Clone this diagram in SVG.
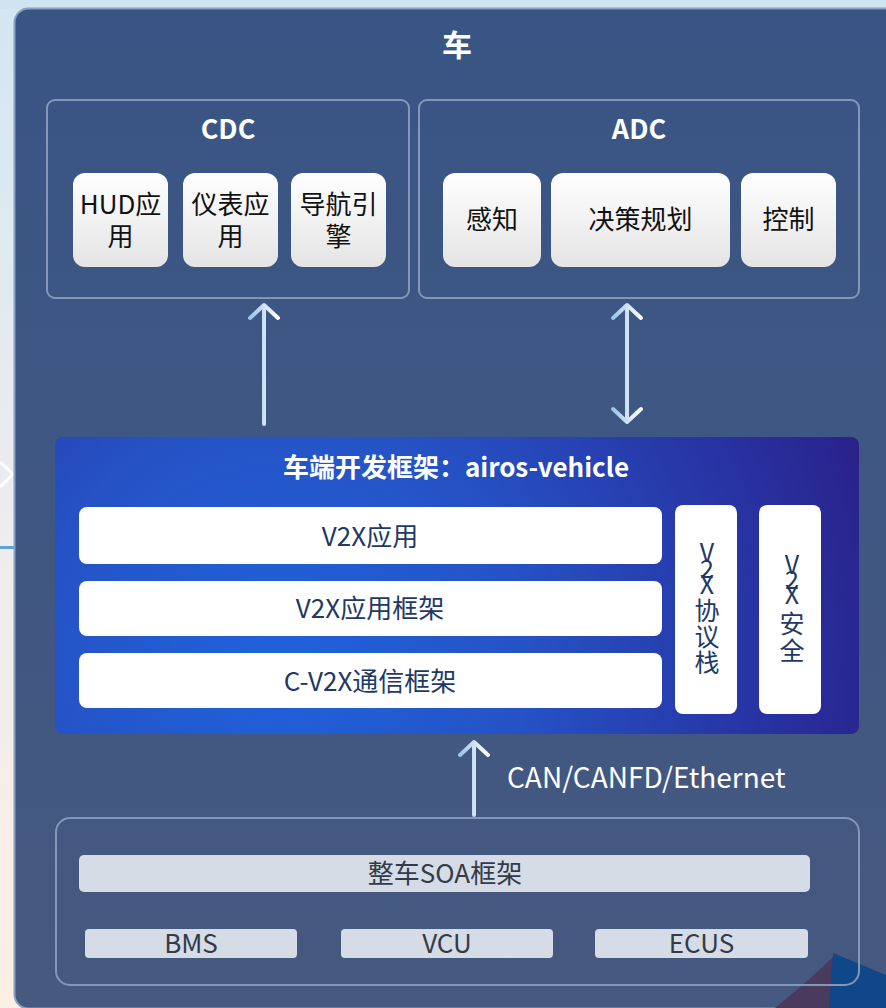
<svg xmlns="http://www.w3.org/2000/svg" width="886" height="1008" viewBox="0 0 886 1008">
<defs>
<linearGradient id="bgL" x1="0" y1="0" x2="0" y2="1">
<stop offset="0" stop-color="#d3e6f2"/>
<stop offset="0.5" stop-color="#ececef"/>
<stop offset="1" stop-color="#fcefe3"/>
</linearGradient>
<linearGradient id="panel" x1="0" y1="0" x2="0" y2="1">
<stop offset="0" stop-color="#395585"/>
<stop offset="1" stop-color="#46597f"/>
</linearGradient>
<linearGradient id="card" x1="0" y1="0" x2="0" y2="1">
<stop offset="0" stop-color="#ffffff"/>
<stop offset="1" stop-color="#e4e4e4"/>
</linearGradient>
<radialGradient id="fw" cx="0.28" cy="0.75" r="0.85" fx="0.28" fy="0.75" gradientTransform="translate(0.28 0.75) scale(1 2.7) translate(-0.28 -0.75)">
<stop offset="0" stop-color="#2062dc"/>
<stop offset="0.35" stop-color="#2553c6"/>
<stop offset="0.75" stop-color="#282f9e"/>
<stop offset="1" stop-color="#2a1a7c"/>
</radialGradient>
<linearGradient id="arr" x1="0" y1="0" x2="1" y2="0">
<stop offset="0" stop-color="#9cc4ea"/>
<stop offset="1" stop-color="#ffffff"/>
</linearGradient>
<style>
.t{font-family:"Noto Sans CJK SC","Noto Sans",sans-serif;}
.w{fill:#ffffff;font-weight:bold;}
.k{fill:#111111;font-size:26px;}
.d{fill:#1e3a64;font-size:26px;}
.v{fill:#1e3a64;font-size:25px;}
.g{fill:#333b4a;font-size:26px;}
.box{fill:none;stroke:#8397b8;stroke-width:2;}
.card{fill:url(#card);}
.wc{fill:#ffffff;}
.bar{fill:#d5dce6;}
.ln{stroke:url(#arr);stroke-width:4;fill:none;stroke-linecap:round;stroke-linejoin:round;}
</style>
</defs>
<rect x="0" y="0" width="886" height="1008" fill="url(#bgL)"/>
<rect x="0" y="0" width="886" height="9" fill="#cfe3f0"/>
<path d="M0 462 L13 474 L0 487" fill="none" stroke="#ffffff" stroke-width="3"/>
<rect x="0" y="546" width="14" height="3" fill="#5ea2dd"/>
<rect id="vehicle" x="14.5" y="8.5" width="900" height="1000" rx="14" fill="url(#panel)" stroke="#8aa0bf" stroke-width="2"/>
<polygon points="775,1008 805,983 833,957 833,1008" fill="#4a3a5e"/>
<polygon points="833,953 886,975 886,1008 829,1008" fill="#0f4789"/>
<text class="t w" x="457" y="56" font-size="30" text-anchor="middle">车</text>

<g id="cdc">
<rect class="box" x="47" y="100" width="362" height="198" rx="8"/>
<text class="t w" x="228" y="139" font-size="27" text-anchor="middle">CDC</text>
</g>
<g id="hud">
<rect class="card" x="73" y="173" width="95" height="94" rx="12"/>
<text class="t k" x="120.5" y="214" text-anchor="middle">HUD应</text>
<text class="t k" x="120.5" y="246" text-anchor="middle">用</text>
</g>
<g id="yibiao">
<rect class="card" x="183" y="173" width="95" height="94" rx="12"/>
<text class="t k" x="230.5" y="214" text-anchor="middle">仪表应</text>
<text class="t k" x="230.5" y="246" text-anchor="middle">用</text>
</g>
<g id="daohang">
<rect class="card" x="291" y="173" width="95" height="94" rx="12"/>
<text class="t k" x="338.5" y="214" text-anchor="middle">导航引</text>
<text class="t k" x="338.5" y="246" text-anchor="middle">擎</text>
</g>

<g id="adc">
<rect class="box" x="419" y="100" width="440" height="198" rx="8"/>
<text class="t w" x="639" y="139" font-size="27" text-anchor="middle">ADC</text>
</g>
<g id="ganzhi">
<rect class="card" x="443" y="173" width="98" height="94" rx="12"/>
<text class="t k" x="492" y="229" text-anchor="middle">感知</text>
</g>
<g id="juece">
<rect class="card" x="551" y="173" width="179" height="94" rx="12"/>
<text class="t k" x="640.5" y="229" text-anchor="middle">决策规划</text>
</g>
<g id="kongzhi">
<rect class="card" x="741" y="173" width="95" height="94" rx="12"/>
<text class="t k" x="788.5" y="229" text-anchor="middle">控制</text>
</g>

<g id="framework">
<rect x="55" y="437" width="804" height="297" rx="8" fill="url(#fw)"/>
<text class="t w" x="456" y="477" font-size="26" text-anchor="middle">车端开发框架：airos-vehicle</text>
</g>
<g id="v2xapp">
<rect class="wc" x="79" y="507" width="583" height="57" rx="8"/>
<text class="t d" x="370" y="546" text-anchor="middle">V2X应用</text>
</g>
<g id="v2xappfw">
<rect class="wc" x="79" y="581" width="583" height="55" rx="8"/>
<text class="t d" x="370" y="618" text-anchor="middle">V2X应用框架</text>
</g>
<g id="cv2x">
<rect class="wc" x="79" y="653" width="583" height="55" rx="8"/>
<text class="t d" x="370" y="691" text-anchor="middle">C-V2X通信框架</text>
</g>
<g id="stack">
<rect class="wc" x="675" y="505" width="62" height="209" rx="8"/>
<text class="t v" text-anchor="middle"><tspan x="707" y="562">V</tspan><tspan x="707" y="578">2</tspan><tspan x="707" y="594">X</tspan><tspan x="707" y="620">协</tspan><tspan x="707" y="646">议</tspan><tspan x="707" y="672">栈</tspan></text>
</g>
<g id="security">
<rect class="wc" x="759" y="505" width="62" height="209" rx="8"/>
<text class="t v" text-anchor="middle"><tspan x="792" y="574">V</tspan><tspan x="792" y="589">2</tspan><tspan x="792" y="604">X</tspan><tspan x="792" y="633">安</tspan><tspan x="792" y="660">全</tspan></text>
</g>

<g id="soa">
<rect class="box" x="56" y="818" width="803" height="167" rx="14"/>
</g>
<g id="soafw">
<rect class="bar" x="79" y="855" width="731" height="37" rx="5"/>
<text class="t g" x="445" y="883" text-anchor="middle">整车SOA框架</text>
</g>
<g id="bms">
<rect class="bar" x="85" y="929" width="212" height="29" rx="4"/>
<text class="t g" x="191" y="953" text-anchor="middle">BMS</text>
</g>
<g id="vcu">
<rect class="bar" x="341" y="929" width="212" height="29" rx="4"/>
<text class="t g" x="447" y="953" text-anchor="middle">VCU</text>
</g>
<g id="ecus">
<rect class="bar" x="595" y="929" width="213" height="29" rx="4"/>
<text class="t g" x="701.5" y="953" text-anchor="middle">ECUS</text>
</g>

<g id="connectors">
<path class="ln" d="M264 424 L264 306 M250 318 L264 305 L278 318"/>
<path class="ln" d="M627 306 L627 421 M613 318 L627 305 L641 318 M613 409 L627 422 L641 409"/>
<path class="ln" d="M474 815 L474 743 M460 755 L474 742 L488 755"/>
<text class="t" x="507" y="788" font-size="28" fill="#ffffff">CAN/CANFD/Ethernet</text>
</g>
</svg>
